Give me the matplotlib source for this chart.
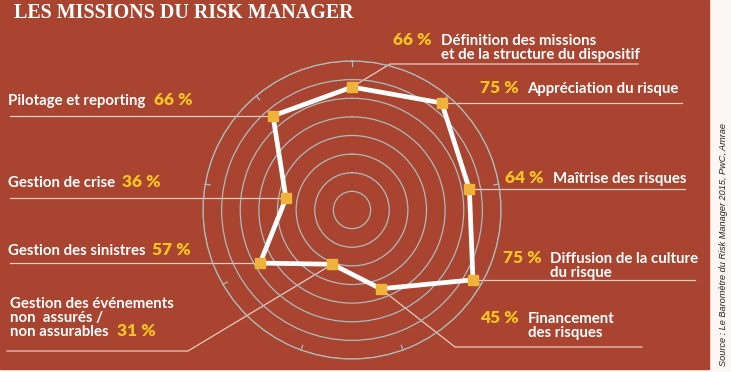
import numpy as np
import matplotlib
matplotlib.use("Agg")
import matplotlib.pyplot as plt
from matplotlib.patches import Rectangle

# data
categories = ["Définition des missions\net de la structure du dispositif",
              "Appréciation du risque",
              "Maîtrise des risques",
              "Diffusion de la culture\ndu risque",
              "Financement\ndes risques",
              "Gestion des événements\nnon  assurés /\nnon assurables",
              "Gestion des sinistres",
              "Gestion de crise",
              "Pilotage et reporting"]
values = [66, 75, 64, 75, 45, 31, 57, 36, 66]
title = "LES MISSIONS DU RISK MANAGER"
source = "Source : Le Baromètre du Risk Manager 2015, PwC, Amrae"

# layout (pixels, y from top)
pct_x = [393, 480, 505, 503, 480, 117, 152, 122, 154]
txt_x = [441, 527, 553, 550, 528, 10, 8, 8, 8]
base_y = [45, 93, 183, 263, 323, 308, 255, 187, 105]
line_gap = 14
# leader line elbows / ends (None = stay at the point's height)
leader = [[(390, 64), (638, 64)],
          [(682, None)],
          [(685, None)],
          [(695, None)],
          [(455, 347), (642, 347)],
          [(188, 351), (7, 351)],
          [(10, None)],
          [(10, None)],
          [(10, None)]]

bg = "#A8442F"
ring = "#AEBBBD"
gold = "#F6C323"
marker_c = "#EFB23A"
lead_c = "#E9CBC2"

W, H = 731, 372
fig = plt.figure(figsize=(W / 100, H / 100), dpi=100)
fig.patch.set_facecolor("#FBF7F4")

ax = fig.add_axes([0, 0, 1, 1])
ax.set_xlim(0, W)
ax.set_ylim(H, 0)
ax.axis("off")
ax.add_patch(Rectangle((0, 0), 709, 369, color=bg, zorder=0))

# radar
cx, cy, R = 352, 210, 149
pol = fig.add_axes([(cx - R) / W, (H - cy - R) / H, 2 * R / W, 2 * R / H],
                   projection="polar", zorder=2)
pol.set_facecolor("none")
pol.set_theta_offset(np.pi / 2)
pol.set_theta_direction(-1)
pol.set_ylim(0, 80)
pol.set_rgrids(range(10, 81, 10))
pol.set_yticklabels([])
pol.yaxis.grid(True, color=ring, lw=0.9)
pol.xaxis.grid(False)
theta = np.arange(len(values)) * 2 * np.pi / len(values)
pol.set_xticks(theta)
pol.set_xticklabels([])
pol.tick_params(axis="x", length=0)
pol.spines["polar"].set_color(ring)
pol.spines["polar"].set_linewidth(0.9)
# small inward ticks on the outer ring at each axis
for t in theta:
    pol.plot([t, t], [77.3, 80], color=ring, lw=0.9, zorder=2, clip_on=False)

th = np.append(theta, theta[0])
vv = np.append(values, values[0])
pol.plot(th, vv, color="white", lw=3.4, zorder=3, clip_on=False)
pol.plot(theta, values, ls="none", marker="s", ms=6.8, color=marker_c,
         zorder=4, clip_on=False)

# point positions in overlay coordinates
disp = pol.transData.transform(np.column_stack([theta, values]))
pts = ax.transData.inverted().transform(disp)

for i, (px, py) in enumerate(pts):
    xs, ys = [px], [py]
    for ex, ey in leader[i]:
        xs.append(ex)
        ys.append(py if ey is None else ey)
    ax.plot(xs, ys, color=lead_c, lw=0.9, zorder=1)

fam = ["Lato", "DejaVu Sans"]
for i, cat in enumerate(categories):
    lines = cat.split("\n")
    for k, ln in enumerate(lines):
        ax.text(txt_x[i], base_y[i] + k * line_gap, ln, color="white",
                fontsize=10.8, fontweight="bold", family=fam,
                va="baseline", ha="left", zorder=5)
    py_ = base_y[i] if i < 5 else base_y[i] + (len(lines) - 1) * line_gap
    ax.text(pct_x[i], py_, f"{values[i]} %", color=gold, fontsize=12.5,
            fontweight="heavy", family=fam,
            va="baseline", ha="left", zorder=5)

ax.text(14, 18, title, color="white", fontsize=14.4, fontweight="bold",
        family=["Liberation Serif"], va="baseline", ha="left")

ax.text(723, 366, source, rotation=90, color="#222222", fontsize=6.6,
        style="italic", family=["Liberation Sans", "DejaVu Sans"],
        va="center", ha="left", rotation_mode="anchor")

fig.savefig("out.png", dpi=100, facecolor=fig.get_facecolor())
